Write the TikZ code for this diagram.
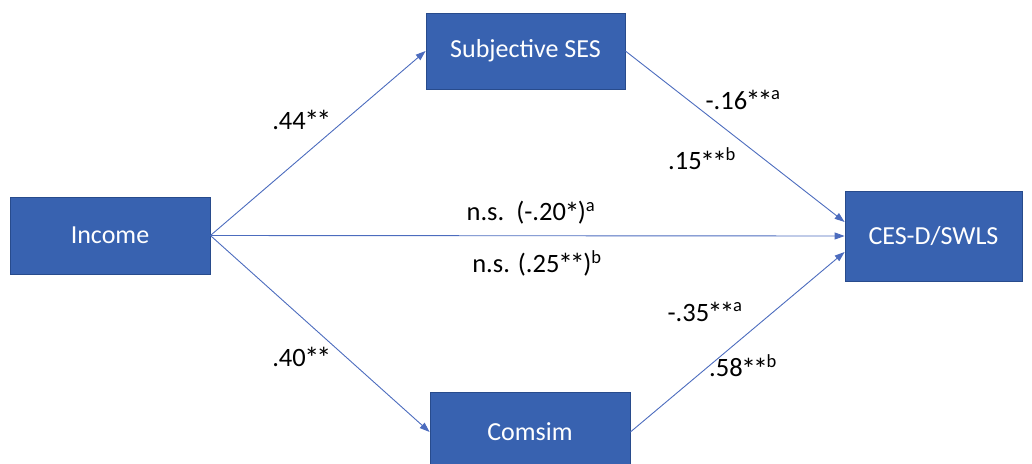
\documentclass[tikz,border=0pt]{standalone}
\usepackage{fontspec}
\setmainfont{Carlito}
\usetikzlibrary{arrows.meta,calc}
\definecolor{boxblue}{RGB}{56,98,176}
\definecolor{boxedge}{RGB}{40,75,140}
\definecolor{arrowblue}{RGB}{76,108,190}
\tikzset{
  varbox/.style={draw=boxedge,line width=0.8pt,fill=boxblue,text=white,
    font=\fontsize{26}{30}\selectfont,inner sep=0pt},
  path/.style={draw=arrowblue,line width=0.9pt,-{Triangle[length=10pt,width=7pt]}},
  coef/.style={font=\fontsize{26.5}{30}\selectfont,inner sep=0pt}
}
\newcommand{\sps}[1]{\textsuperscript{#1}}
\newcommand{\st}{\kern-1.5pt\raisebox{-0.1em}{\fontsize{30}{34}\selectfont*}\kern-1.5pt}
\begin{document}
\begin{tikzpicture}[x=1pt,y=-1pt]
\useasboundingbox (0,0) rectangle (1032,463);
\node[varbox,minimum width=200pt,minimum height=77pt] (inc) at (110,235.5) {Income};
\node[varbox,minimum width=199pt,minimum height=76pt] (ses) at (525.5,51) {Subjective SES};
\node[varbox,minimum width=177pt,minimum height=90pt] (ces) at (933.5,236) {CES-D/SWLS};
\node[varbox,minimum width=200pt,minimum height=80pt] (com) at (530,432) {Comsim};
\draw[path] (inc.east) -- (ses.west);
\draw[path] (inc.east) -- (ces.west);
\draw[path] (inc.east) -- (com.west);
\draw[path] (ses.east) -- ($(ces.west)+(0,-14)$);
\draw[path] (com.east) -- ($(ces.west)+(0,16)$);
\node[coef] (l1) at (301,121) {.44\st\st};
\node[coef] (l2) at (301,358) {.40\st\st};
\node[coef] (l3) at (743,101) {-.16\st\st\sps{a}};
\node[coef] (l4) at (702,160) {.15\st\st\sps{b}};
\node[coef] (l5) at (531,213) {n.s.\ \ (-.20\st)\sps{a}};
\node[coef] (l6) at (537,263) {n.s. (.25\st\st)\sps{b}};
\node[coef] (l7) at (705,313) {-.35\st\st\sps{a}};
\node[coef] (l8) at (743,367) {.58\st\st\sps{b}};
\end{tikzpicture}
\end{document}
